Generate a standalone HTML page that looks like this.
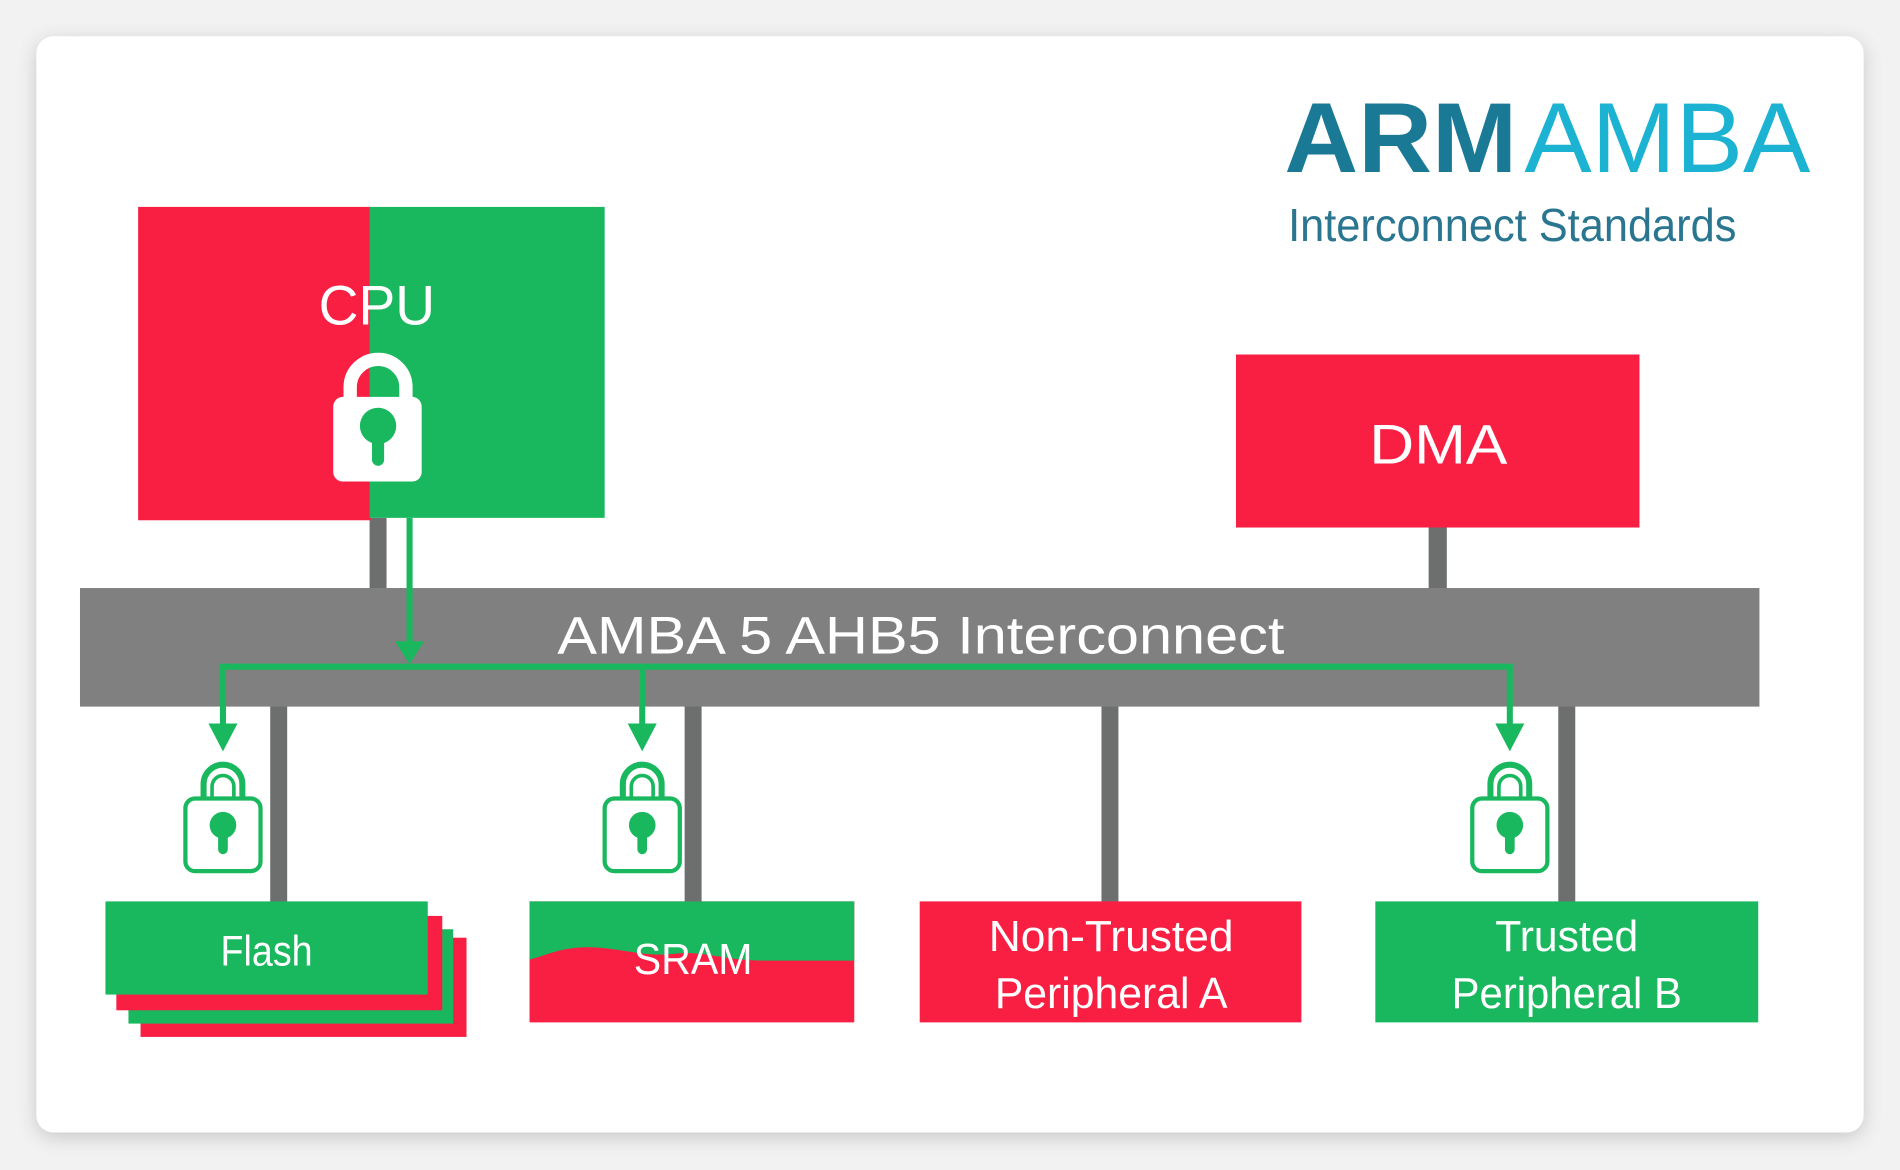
<!DOCTYPE html>
<html><head><meta charset="utf-8"><style>
html,body{margin:0;padding:0;background:#f2f2f2;width:1900px;height:1170px;overflow:hidden}
svg{display:block}
text{font-family:"Liberation Sans",sans-serif;fill:#fff}
</style></head><body>
<svg width="1900" height="1170" viewBox="0 0 1568 967" preserveAspectRatio="none" xmlns="http://www.w3.org/2000/svg">
<defs>
<filter id="sh" x="-5%" y="-5%" width="110%" height="110%"><feGaussianBlur stdDeviation="8"/></filter>
<g id="olock">
<path d="M-16,0 V-12 A16,16 0 0 1 16,-12 V0" fill="none" stroke="#1ab85e" stroke-width="5"/>
<path d="M-9,0 V-10 A9,9 0 0 1 9,-10 V0" fill="none" stroke="#1ab85e" stroke-width="3"/>
<rect x="-31" y="0" width="62" height="60" rx="8" fill="#fff" stroke="#1ab85e" stroke-width="3.5"/>
<circle cx="0" cy="22" r="11" fill="#1ab85e"/>
<rect x="-4" y="24" width="8" height="22" rx="4" fill="#1ab85e"/>
</g>
</defs>
<rect x="0" y="0" width="1568" height="967" fill="#f2f2f2"/>
<rect x="30" y="34" width="1508" height="906" rx="14" fill="#c8c8c8" filter="url(#sh)"/>
<rect x="30" y="30" width="1508" height="906" rx="14" fill="#fff"/>

<!-- logo -->
<text x="1060" y="142" font-size="82" font-weight="bold" style="fill:#1a7a96" textLength="192" lengthAdjust="spacingAndGlyphs">ARM</text>
<text x="1258" y="142" font-size="82" style="fill:#1cb2d2" textLength="236" lengthAdjust="spacingAndGlyphs">AMBA</text>
<text x="1063" y="199" font-size="38" style="fill:#2a7690" textLength="370" lengthAdjust="spacingAndGlyphs">Interconnect Standards</text>

<!-- connectors gray -->
<g fill="#6d6e6e">
<rect x="305" y="428" width="14" height="60"/>
<rect x="1179" y="434" width="15" height="54"/>
<rect x="223" y="582" width="14" height="165"/>
<rect x="565" y="582" width="14" height="165"/>
<rect x="909" y="582" width="14" height="165"/>
<rect x="1286" y="582" width="14" height="165"/>
</g>

<!-- CPU -->
<rect x="114" y="171" width="192" height="259" fill="#f91f43"/>
<rect x="305" y="171" width="194" height="257" fill="#1ab85e"/>
<text x="311" y="268" font-size="46" text-anchor="middle" textLength="96" lengthAdjust="spacingAndGlyphs">CPU</text>
<path d="M289,330 V320 A23,23 0 0 1 335,320 V330" fill="none" stroke="#fff" stroke-width="11"/>
<rect x="275" y="328" width="73" height="70" rx="8" fill="#fff"/>
<circle cx="312" cy="352" r="15" fill="#1ab85e"/>
<rect x="307" y="355" width="10" height="30" rx="5" fill="#1ab85e"/>

<!-- DMA -->
<rect x="1020" y="293" width="333" height="143" fill="#f91f43"/>
<text x="1187" y="383" font-size="46" text-anchor="middle" textLength="114" lengthAdjust="spacingAndGlyphs">DMA</text>

<!-- bus -->
<rect x="66" y="486" width="1386" height="98" fill="#808080"/>
<text x="760" y="540" font-size="44" text-anchor="middle" textLength="600" lengthAdjust="spacingAndGlyphs">AMBA 5 AHB5 Interconnect</text>

<!-- green lines -->
<g stroke="#1ab85e" stroke-width="5" fill="none">
<path d="M338,428 V535"/>
<path d="M184,602 V551 H1246 V600"/>
<path d="M530,551 V600"/>
</g>
<g fill="#1ab85e">
<polygon points="326,530 350,530 338,549"/>
<polygon points="172,598 196,598 184,621"/>
<polygon points="518,598 542,598 530,621"/>
<polygon points="1234,598 1258,598 1246,621"/>
</g>
<use href="#olock" x="184" y="660"/>
<use href="#olock" x="530" y="660"/>
<use href="#olock" x="1246" y="660"/>

<!-- Flash -->
<rect x="116" y="775" width="269" height="82" fill="#f91f43"/>
<rect x="106" y="768" width="268" height="78" fill="#1ab85e"/>
<rect x="96" y="757" width="269" height="78" fill="#f91f43"/>
<rect x="87" y="745" width="266" height="77" fill="#1ab85e"/>
<text x="220" y="798" font-size="35" text-anchor="middle" textLength="76" lengthAdjust="spacingAndGlyphs">Flash</text>

<!-- SRAM -->
<rect x="437" y="745" width="268" height="100" fill="#f91f43"/>
<path d="M437,745 H705 V794 H630 C600,794 580,786 560,788 C530,792 510,782 480,783 C460,784 450,790 437,793 Z" fill="#1ab85e"/>
<text x="572" y="805" font-size="36" text-anchor="middle" textLength="98" lengthAdjust="spacingAndGlyphs">SRAM</text>

<!-- Non-trusted -->
<rect x="759" y="745" width="315" height="100" fill="#f91f43"/>
<text x="917" y="786" font-size="36" text-anchor="middle" textLength="202" lengthAdjust="spacingAndGlyphs">Non-Trusted</text>
<text x="917" y="833" font-size="36" text-anchor="middle" textLength="192" lengthAdjust="spacingAndGlyphs">Peripheral A</text>

<!-- Trusted -->
<rect x="1135" y="745" width="316" height="100" fill="#1ab85e"/>
<text x="1293" y="786" font-size="36" text-anchor="middle" textLength="118" lengthAdjust="spacingAndGlyphs">Trusted</text>
<text x="1293" y="833" font-size="36" text-anchor="middle" textLength="190" lengthAdjust="spacingAndGlyphs">Peripheral B</text>
</svg>
</body></html>
